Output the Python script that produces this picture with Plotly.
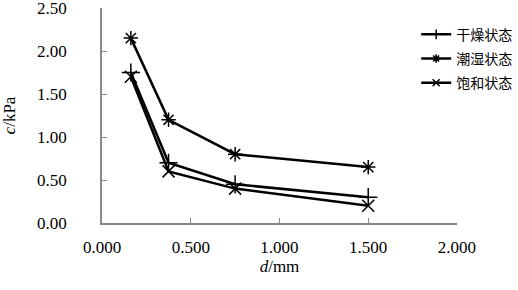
import plotly.graph_objects as go

d_mm = [0.1625, 0.375, 0.75, 1.5]
dry = [1.75, 0.70, 0.45, 0.30]
wet = [2.15, 1.20, 0.80, 0.65]
sat = [1.70, 0.60, 0.40, 0.20]
names = ["干燥状态", "潮湿状态", "饱和状态"]
x_ticks = [0.0, 0.5, 1.0, 1.5, 2.0]
x_ticktext = ["0.000", "0.500", "1.000", "1.500", "2.000"]
y_ticks = [0.0, 0.5, 1.0, 1.5, 2.0, 2.5]
y_ticktext = ["0.00", "0.50", "1.00", "1.50", "2.00", "2.50"]

serif = "Liberation Serif"
cjk = "Noto Sans CJK SC"

fig = go.Figure()
series = [(dry, "cross-thin-open", 13), (wet, "asterisk-open", 12), (sat, "x-thin-open", 12)]
for i, ((vals, sym, sz), nm) in enumerate(zip(series, names)):
    fig.add_trace(go.Scatter(
        x=d_mm, y=vals, name=nm, mode="lines+markers", showlegend=False,
        line=dict(color="black", width=2.5),
        marker=dict(symbol=sym, size=sz, color="black",
                    line=dict(color="black", width=1.5)),
    ))
legend_syms = ["line-ns-open", "asterisk-open", "x-thin-open"]
for i, (sym, nm) in enumerate(zip(legend_syms, names)):
    fig.add_trace(go.Scatter(
        x=[None], y=[None], name=nm, mode="lines+markers", legendgroup=f"g{i}",
        line=dict(color="black", width=2.5),
        marker=dict(symbol=sym, size=7, color="black",
                    line=dict(color="black", width=1.5)),
    ))

fig.update_layout(
    width=518, height=290,
    margin=dict(l=102, r=61, t=8, b=67, autoexpand=False),
    paper_bgcolor="white", plot_bgcolor="white",
    font=dict(family=serif, color="black"),
    showlegend=True,
    legend=dict(x=0.885, y=0.95, xanchor="left", yanchor="top",
                font=dict(family=cjk, size=14, color="black"),
                bgcolor="rgba(0,0,0,0)", tracegroupgap=3,
                itemsizing="trace"),
    xaxis=dict(range=[0, 2.0001], tickvals=x_ticks, ticktext=x_ticktext,
               showgrid=False, zeroline=False, showline=True,
               linecolor="#888888", linewidth=1.5, automargin=False,
               ticks="inside", ticklen=5, tickcolor="#888888",
               ticklabelstandoff=8, ticklabeloverflow="allow",
               tickfont=dict(family=serif, size=17, color="black"),
               title=dict(text="<i>d</i>/mm", standoff=0,
                          font=dict(family=serif, size=17, color="black"))),
    yaxis=dict(range=[0, 2.5001], tickvals=y_ticks, ticktext=y_ticktext,
               showgrid=False, zeroline=False, showline=True,
               linecolor="#888888", linewidth=1.5, automargin=False,
               ticks="inside", ticklen=5, tickcolor="#888888",
               ticklabelstandoff=30, ticklabeloverflow="allow",
               tickfont=dict(family=serif, size=17, color="black"),
               title=dict(text="<i>c</i>/kPa", standoff=21,
                          font=dict(family=serif, size=17, color="black"))),
)

fig.write_html("out.html", config={"displayModeBar": False},
               post_script="document.body.style.margin='0';")
